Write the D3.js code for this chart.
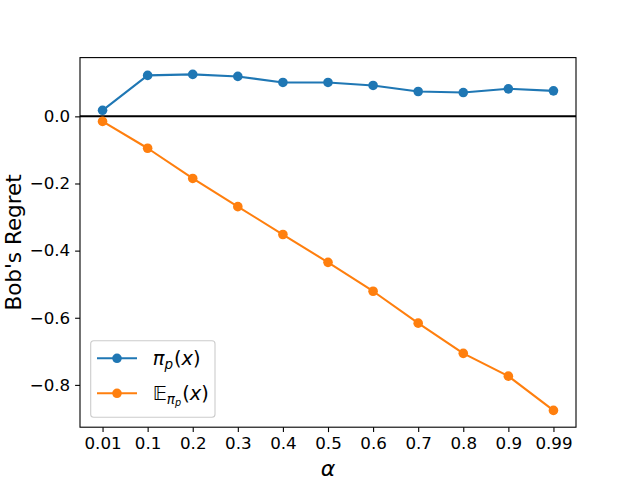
<!doctype html>
<html lang="en">
<head>
<meta charset="UTF-8">
<title>Bob's Regret</title>
<style>
  html, body { margin: 0; padding: 0; background: #fff; }
  svg { display: block; font-family: "DejaVu Sans", sans-serif; }
</style>
</head>
<body>
<svg id="chart" width="640" height="480"></svg>
<script src="https://cdnjs.cloudflare.com/ajax/libs/d3/7.8.5/d3.min.js"></script>
<script>
  // values
  const alphas = ['0.01', '0.1', '0.2', '0.3', '0.4', '0.5', '0.6', '0.7', '0.8', '0.9', '0.99']
  const policyRegret = [0.018, 0.122, 0.125, 0.119, 0.101, 0.101, 0.092, 0.074, 0.071, 0.082, 0.076]
  const expectedRegret = [-0.015, -0.095, -0.185, -0.269, -0.352, -0.435, -0.521, -0.616, -0.706, -0.774, -0.876]
  const yTicks = [-0.8, -0.6, -0.4, -0.2, 0.0]

  const series = [
    { name: 'pi', color: '#1f77b4', values: policyRegret },
    { name: 'E', color: '#ff7f0e', values: expectedRegret }
  ]

  const W = 640, H = 480
  const m = { left: 80, right: 64, top: 57.6, bottom: 52.8 }
  const x0 = m.left, x1 = W - m.right, y0 = H - m.bottom, y1 = m.top

  const all = policyRegret.concat(expectedRegret)
  const lo = d3.min(all), hi = d3.max(all), pad = (hi - lo) * 0.05

  const xScale = d3.scalePoint().domain(alphas).range([x0, x1]).padding(0.5)
  const yScale = d3.scaleLinear().domain([lo - pad, hi + pad]).range([y0, y1])

  const svg = d3.select('#chart')

  // zero line
  svg.append('line')
    .attr('x1', x0).attr('x2', x1)
    .attr('y1', yScale(0)).attr('y2', yScale(0))
    .attr('stroke', '#000').attr('stroke-width', 2)

  const line = d3.line()
    .x((d, i) => xScale(alphas[i]))
    .y(d => yScale(d))

  series.forEach(s => {
    svg.append('path')
      .attr('d', line(s.values))
      .attr('fill', 'none')
      .attr('stroke', s.color)
      .attr('stroke-width', 2.08)
      .attr('stroke-linejoin', 'round')
    svg.append('g').selectAll('circle')
      .data(s.values)
      .join('circle')
      .attr('cx', (d, i) => xScale(alphas[i]))
      .attr('cy', d => yScale(d))
      .attr('r', 4.8)
      .attr('fill', s.color)
  })

  // axes
  const xAxis = svg.append('g')
    .attr('transform', `translate(0,${y0})`)
    .call(d3.axisBottom(xScale).tickSize(4.9).tickPadding(4.9).tickSizeOuter(0))
  const yAxis = svg.append('g')
    .attr('transform', `translate(${x0},0)`)
    .call(d3.axisLeft(yScale).tickValues(yTicks).tickFormat(d3.format('.1f')).tickSize(4.9).tickPadding(4.9).tickSizeOuter(0))

  ;[xAxis, yAxis].forEach(a => {
    a.select('.domain').remove()
    a.selectAll('.tick line').attr('stroke', '#000').attr('stroke-width', 1.1)
    a.selectAll('.tick text').attr('fill', '#000').style('font-size', '16.7px').style('font-family', '"DejaVu Sans"')
  })

  // frame
  svg.append('rect')
    .attr('x', x0).attr('y', y1)
    .attr('width', x1 - x0).attr('height', y0 - y1)
    .attr('fill', 'none').attr('stroke', '#000').attr('stroke-width', 1.1)

  // axis labels
  svg.append('text')
    .attr('x', (x0 + x1) / 2).attr('y', 476)
    .attr('text-anchor', 'middle')
    .style('font-size', '22px').style('font-style', 'italic')
    .text('α')
  svg.append('text')
    .attr('transform', `translate(20.5,${(y0 + y1) / 2}) rotate(-90)`)
    .attr('text-anchor', 'middle')
    .style('font-size', '21.5px')
    .text("Bob's Regret")

  // legend
  const leg = svg.append('g').attr('transform', 'translate(90.7,340.7)')
  leg.append('rect')
    .attr('width', 124.3).attr('height', 76.6)
    .attr('rx', 3)
    .attr('fill', '#fff').attr('fill-opacity', 0.8)
    .attr('stroke', '#ccc').attr('stroke-width', 1.1)

  const rows = [17.6, 52.6]
  series.forEach((s, i) => {
    const g = leg.append('g').attr('transform', `translate(0,${rows[i]})`)
    g.append('line').attr('x1', 6.3).attr('x2', 46.3)
      .attr('stroke', s.color).attr('stroke-width', 2.08)
    g.append('circle').attr('cx', 26.3).attr('r', 4.8).attr('fill', s.color)
  })

  const t1 = leg.append('text').attr('x', 62).attr('y', rows[0] + 6.5).style('font-size', '19.4px')
  t1.append('tspan').style('font-style', 'italic').text('π')
  t1.append('tspan').style('font-style', 'italic').style('font-size', '13.5px').attr('dy', 4).text('p')
  t1.append('tspan').attr('dy', -4).attr('dx', 1).text('(')
  t1.append('tspan').style('font-style', 'italic').text('x')
  t1.append('tspan').text(')')

  const t2 = leg.append('text').attr('x', 62).attr('y', rows[1] + 6.5).style('font-size', '19.4px')
  t2.append('tspan').text('𝔼')
  t2.append('tspan').style('font-style', 'italic').style('font-size', '13.5px').attr('dy', 4).text('π')
  t2.append('tspan').style('font-style', 'italic').style('font-size', '9.7px').attr('dy', 2.5).text('p')
  t2.append('tspan').attr('dy', -6.5).attr('dx', 1).text('(')
  t2.append('tspan').style('font-style', 'italic').text('x')
  t2.append('tspan').text(')')
</script>
</body>
</html>
